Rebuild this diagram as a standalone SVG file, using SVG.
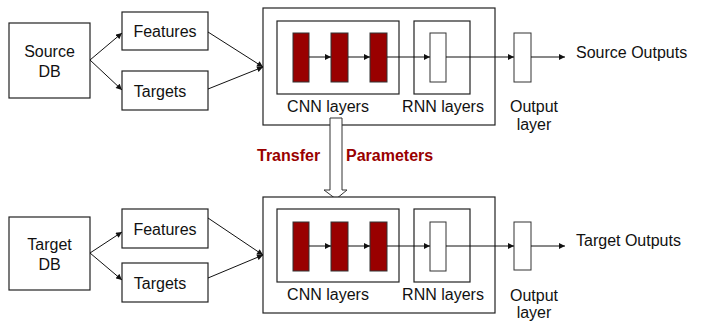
<svg xmlns="http://www.w3.org/2000/svg" width="710" height="322" viewBox="0 0 710 322">
<style>
.box{fill:#fff;stroke:#222;stroke-width:1.2}
.red{fill:#990000;stroke:#333;stroke-width:1}
.wl{fill:#fff;stroke:#333;stroke-width:1}
.t{font-family:"Liberation Sans",Arial,sans-serif;font-size:16px;fill:#111}
.c{text-anchor:middle}
.tr{font-family:"Liberation Sans",Arial,sans-serif;font-size:16px;font-weight:bold;fill:#990000}
.ln{stroke:#111;stroke-width:1;fill:none;marker-end:url(#ah)}
</style>
<defs>
<marker id="ah" viewBox="0 0 10 10" refX="10" refY="5" markerWidth="7" markerHeight="6" markerUnits="userSpaceOnUse" orient="auto">
<path d="M0,0 L10,5 L0,10 z" fill="#111"/>
</marker>
</defs>
<g id="source-db"><rect class="box" x="9" y="23" width="81" height="75"/><text class="t c" x="49.5" y="57">Source</text><text class="t c" x="49.5" y="77">DB</text></g>
<g id="source-features"><rect class="box" x="122" y="12" width="86" height="38"/><text class="t c" x="165" y="37">Features</text></g>
<g id="source-targets"><rect class="box" x="122" y="71" width="86" height="39"/><text class="t c" x="160" y="97">Targets</text></g>
<g id="source-net">
<rect class="box" x="263" y="8" width="232" height="117"/>
<rect class="box" x="277" y="21" width="122" height="73"/>
<rect class="box" x="414" y="21" width="56" height="73"/>
<rect class="red" x="293" y="33" width="16" height="49"/>
<rect class="red" x="331" y="33" width="17" height="49"/>
<rect class="red" x="370" y="33" width="17" height="49"/>
<rect class="wl" x="430" y="33" width="16" height="49"/>
<text class="t c" x="328" y="112">CNN layers</text>
<text class="t c" x="443" y="112">RNN layers</text>
</g>
<g id="source-output"><rect class="wl" x="514" y="33" width="17" height="49"/><text class="t c" x="534" y="112">Output</text><text class="t c" x="534" y="130">layer</text></g>
<g id="source-outputs"><text class="t" x="576" y="58">Source Outputs</text></g>
<g id="transfer">
<polygon points="330,118 342,118 342,190 347,190 336,199 324,190 330,190" fill="#fff" stroke="#333" stroke-width="1"/>
<text class="tr" x="257" y="161">Transfer</text>
<text class="tr" x="346" y="161">Parameters</text>
</g>
<g id="target-db"><rect class="box" x="9" y="217" width="81" height="73"/><text class="t c" x="49.5" y="250">Target</text><text class="t c" x="49.5" y="270">DB</text></g>
<g id="target-features"><rect class="box" x="122" y="209" width="86" height="39"/><text class="t c" x="165" y="235">Features</text></g>
<g id="target-targets"><rect class="box" x="122" y="263" width="86" height="39"/><text class="t c" x="160" y="289">Targets</text></g>
<g id="target-net">
<rect class="box" x="263" y="197" width="232" height="116"/>
<rect class="box" x="277" y="209" width="122" height="73"/>
<rect class="box" x="414" y="209" width="56" height="73"/>
<rect class="red" x="293" y="222" width="16" height="49"/>
<rect class="red" x="331" y="222" width="17" height="49"/>
<rect class="red" x="370" y="222" width="17" height="49"/>
<rect class="wl" x="430" y="222" width="16" height="49"/>
<text class="t c" x="328" y="300">CNN layers</text>
<text class="t c" x="443" y="300">RNN layers</text>
</g>
<g id="target-output"><rect class="wl" x="514" y="222" width="17" height="48"/><text class="t c" x="534" y="301">Output</text><text class="t c" x="534" y="318">layer</text></g>
<g id="target-outputs"><text class="t" x="576" y="246">Target Outputs</text></g>
<g id="connectors">
<line class="ln" x1="90" y1="60" x2="122" y2="33"/>
<line class="ln" x1="90" y1="60" x2="122" y2="90"/>
<line class="ln" x1="208" y1="32" x2="263" y2="67"/>
<line class="ln" x1="208" y1="89" x2="263" y2="67"/>
<line class="ln" x1="309" y1="57" x2="331" y2="57"/>
<line class="ln" x1="348" y1="57" x2="370" y2="57"/>
<line class="ln" x1="387" y1="57" x2="430" y2="57"/>
<line class="ln" x1="446" y1="57" x2="514" y2="57"/>
<line class="ln" x1="531" y1="57" x2="565" y2="57"/>
<line class="ln" x1="90" y1="253" x2="122" y2="232"/>
<line class="ln" x1="90" y1="253" x2="122" y2="280"/>
<line class="ln" x1="208" y1="218" x2="263" y2="255"/>
<line class="ln" x1="208" y1="278" x2="263" y2="255"/>
<line class="ln" x1="309" y1="246" x2="331" y2="246"/>
<line class="ln" x1="348" y1="246" x2="370" y2="246"/>
<line class="ln" x1="387" y1="246" x2="430" y2="246"/>
<line class="ln" x1="446" y1="246" x2="514" y2="246"/>
<line class="ln" x1="531" y1="246" x2="565" y2="246"/>
</g>
</svg>
